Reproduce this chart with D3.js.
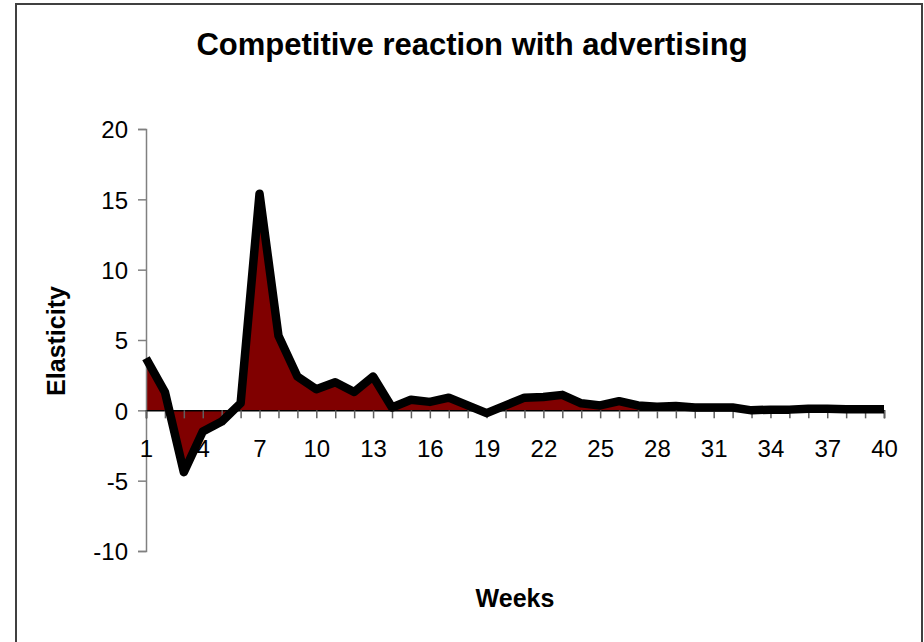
<!DOCTYPE html>
<html>
<head>
<meta charset="utf-8">
<title>Competitive reaction with advertising</title>
<script src="https://d3js.org/d3.v7.min.js"></script>
<style>
  body { margin: 0; background: #fff; }
  svg text { font-family: "Liberation Sans", Arial, sans-serif; fill: #000; }
</style>
</head>
<body>
<script>
// weeks 1..40 and the elasticity read for each
var weeks = d3.range(1, 41);
var elasticity = [3.7, 1.3, -4.4, -1.5, -0.8, 0.5, 15.4, 5.3, 2.4, 1.5,
                  2.0, 1.3, 2.4, 0.2, 0.75, 0.6, 0.9, 0.35, -0.2, 0.35,
                  0.9, 0.95, 1.1, 0.5, 0.35, 0.65, 0.35, 0.25, 0.3, 0.2,
                  0.2, 0.2, 0.0, 0.05, 0.05, 0.12, 0.12, 0.07, 0.07, 0.07];
var yTicks = [-10, -5, 0, 5, 10, 15, 20];
var xLabels = [1, 4, 7, 10, 13, 16, 19, 22, 25, 28, 31, 34, 37, 40];

var W = 924, H = 642;
var svg = d3.select("body").append("svg")
    .attr("width", W).attr("height", H);

// outer frame
svg.append("rect")
    .attr("x", 16).attr("y", 4)
    .attr("width", 906).attr("height", 650)
    .attr("fill", "#fff")
    .attr("stroke", "#404040")
    .attr("stroke-width", 2);

var x = d3.scaleLinear().domain([1, 40]).range([146, 884]);
var y = d3.scaleLinear().domain([-10, 20]).range([551, 129]);

var data = weeks.map(function(w, i) { return { w: w, v: elasticity[i] }; });

// filled area
var area = d3.area()
    .x(function(d) { return x(d.w); })
    .y0(y(0))
    .y1(function(d) { return y(d.v); });

svg.append("path")
    .datum(data)
    .attr("d", area)
    .attr("fill", "#800000");

// y axis
var yAxis = svg.append("g")
    .attr("transform", "translate(" + x(1) + ",0)")
    .call(d3.axisLeft(y).tickValues(yTicks).tickSize(8)
      .tickFormat(function(d) { return String(d); }));
yAxis.select(".domain").attr("stroke", "#808080").attr("stroke-width", 1.5);
yAxis.selectAll(".tick line").attr("stroke", "#808080").attr("stroke-width", 1.5);
yAxis.selectAll(".tick text")
    .attr("font-size", 24)
    .attr("font-family", "Liberation Sans, Arial, sans-serif")
    .attr("x", -18).attr("dy", "0.37em");

// x axis along zero
var xAxis = svg.append("g")
    .attr("transform", "translate(0," + y(0) + ")")
    .call(d3.axisBottom(x).tickValues(weeks).tickSize(8)
      .tickFormat(function(d) { return xLabels.indexOf(d) >= 0 ? d : ""; }));
xAxis.select(".domain").attr("stroke", "#000").attr("stroke-width", 1.5);
xAxis.selectAll(".tick line").attr("stroke", "#606060").attr("stroke-width", 1.5);
xAxis.selectAll(".tick text")
    .attr("font-size", 24)
    .attr("font-family", "Liberation Sans, Arial, sans-serif")
    .attr("y", 47).attr("dy", 0);

// thick black line
var line = d3.line()
    .x(function(d) { return x(d.w); })
    .y(function(d) { return y(d.v); });

svg.append("path")
    .datum(data)
    .attr("d", line)
    .attr("fill", "none")
    .attr("stroke", "#000")
    .attr("stroke-width", 8.5)
    .attr("stroke-linejoin", "round");

// titles
svg.append("text")
    .attr("x", 472).attr("y", 55)
    .attr("text-anchor", "middle")
    .attr("font-size", 31).attr("font-weight", "bold")
    .text("Competitive reaction with advertising");

svg.append("text")
    .attr("transform", "translate(65,341) rotate(-90)")
    .attr("text-anchor", "middle")
    .attr("font-size", 25).attr("font-weight", "bold")
    .text("Elasticity");

svg.append("text")
    .attr("x", 515).attr("y", 607)
    .attr("text-anchor", "middle")
    .attr("font-size", 25).attr("font-weight", "bold")
    .text("Weeks");
</script>
</body>
</html>
